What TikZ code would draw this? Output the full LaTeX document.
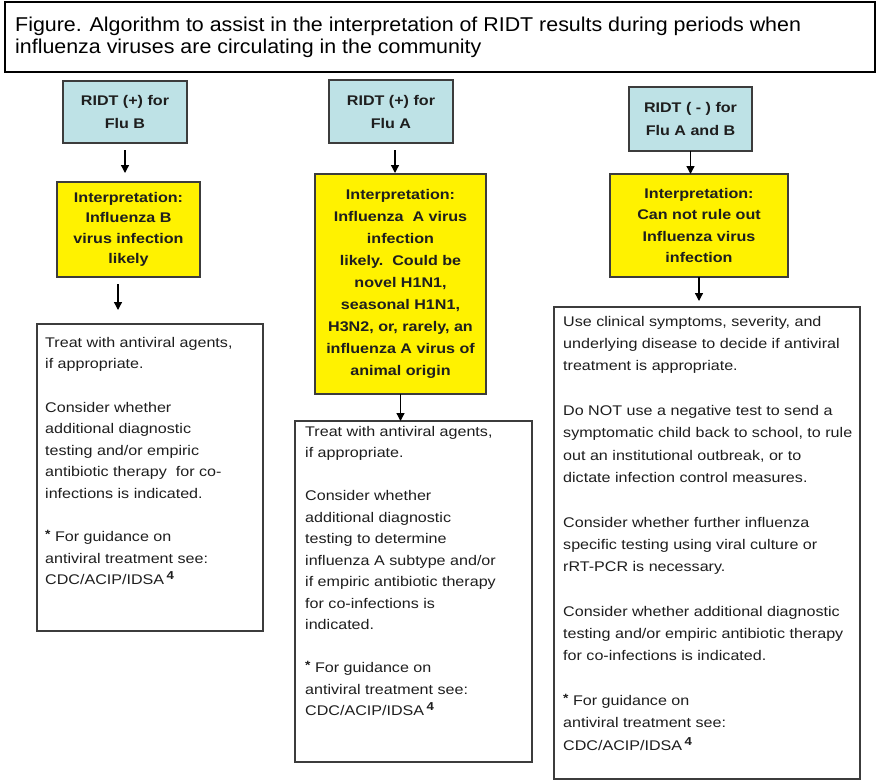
\documentclass[tikz,border=0pt]{standalone}
\usepackage{fontspec}
\setmainfont{Liberation Sans}[FakeStretch=1.15]
\newfontfamily\titlefont{Liberation Sans}[FakeStretch=1.07]
\usetikzlibrary{arrows.meta}
\definecolor{ridtblue}{RGB}{190,226,230}
\definecolor{boxline}{RGB}{60,60,60}
\definecolor{txt}{RGB}{30,30,30}
\tikzset{
  box/.style={draw=boxline, line width=1.3pt, anchor=north west, inner sep=0pt, outer sep=0pt},
  bluebox/.style={box, fill=ridtblue, align=center, text=txt,
    font={\fontsize{14}{23}\selectfont\bfseries}},
  yellowbox/.style={box, fill=yellow, align=center, text=txt,
    font={\fontsize{14}{21.5}\selectfont\bfseries}},
  whitebox/.style={box, fill=white},
  bodytext/.style={anchor=north west, inner sep=0pt, align=left, text=txt,
    font={\fontsize{14}{21.6}\selectfont}},
  arr/.style={line width=1.3pt, -{Triangle[length=8pt,width=8pt]}}
}
\newcommand{\footsup}{\raisebox{3pt}{\fontsize{12}{12}\selectfont\bfseries *}}
\newcommand{\refsup}{\,\raisebox{5pt}{\fontsize{11.5}{11.5}\selectfont\bfseries 4}}
\begin{document}
\begin{tikzpicture}[x=1pt,y=-1pt]
\useasboundingbox (0,0) rectangle (880,782);
\fill[white] (0,0) rectangle (880,782);

% title
\node[box, draw=black, minimum width=870pt, minimum height=70pt] (title) at (5,2) {};
\node[anchor=north west, inner sep=0pt, align=left, text=black,
  font={\titlefont\fontsize{20}{22}\selectfont}] (titletext) at (15,16.5)
  {Figure. Algorithm to assist in the interpretation of RIDT results during periods when\\
   influenza viruses are circulating in the community};

% column 1
\node[bluebox, minimum width=124pt, minimum height=62pt] (b1) at (63,81)
  {RIDT (+) for\\Flu B};
\node[yellowbox, minimum width=143pt, minimum height=95pt,
  font={\fontsize{14}{20.5}\selectfont\bfseries}] (y1) at (57,182)
  {Interpretation:\\Influenza B\\virus infection\\likely};
\node[whitebox, minimum width=226pt, minimum height=307pt] (w1) at (37,324) {};
\node[bodytext] (t1) at (45,337)
  {Treat with antiviral agents,\\
   if appropriate.\\[21.6pt]
   Consider whether\\
   additional diagnostic\\
   testing and/or empiric\\
   antibiotic therapy\ \ for co-\\
   infections is indicated.\\[21.6pt]
   \footsup\ For guidance on\\
   antiviral treatment see:\\
   CDC/ACIP/IDSA\refsup};

% column 2
\node[bluebox, minimum width=124pt, minimum height=63pt] (b2) at (329,80)
  {RIDT (+) for\\Flu A};
\node[yellowbox, minimum width=171pt, minimum height=220pt,
  font={\fontsize{14}{21.9}\selectfont\bfseries}] (y2) at (315,174)
  {Interpretation:\\Influenza\ \ A virus\\infection\\likely.\ \ Could be\\novel H1N1,\\seasonal H1N1,\\H3N2, or, rarely, an\\influenza A virus of\\animal origin};
\node[whitebox, minimum width=237pt, minimum height=341pt] (w2) at (295,421) {};
\node[bodytext, font={\fontsize{14}{21.5}\selectfont}] (t2) at (305,426)
  {Treat with antiviral agents,\\
   if appropriate.\\[21.5pt]
   Consider whether\\
   additional diagnostic\\
   testing to determine\\
   influenza A subtype and/or\\
   if empiric antibiotic therapy\\
   for co-infections is\\
   indicated.\\[21.5pt]
   \footsup\ For guidance on\\
   antiviral treatment see:\\
   CDC/ACIP/IDSA\refsup};

% column 3
\node[bluebox, minimum width=123pt, minimum height=64pt] (b3) at (629,87)
  {RIDT ( - ) for\\Flu A and B};
\node[yellowbox, minimum width=178pt, minimum height=103pt] (y3) at (610,174)
  {Interpretation:\\Can not rule out\\Influenza virus\\infection};
\node[whitebox, minimum width=306pt, minimum height=472pt] (w3) at (554,307) {};
\node[bodytext, font={\fontsize{14}{22.3}\selectfont}] (t3) at (563,316)
  {Use clinical symptoms, severity, and\\
   underlying disease to decide if antiviral\\
   treatment is appropriate.\\[22.3pt]
   Do NOT use a negative test to send a\\
   symptomatic child back to school, to rule\\
   out an institutional outbreak, or to\\
   dictate infection control measures.\\[22.3pt]
   Consider whether further influenza\\
   specific testing using viral culture or\\
   rRT-PCR is necessary.\\[22.3pt]
   Consider whether additional diagnostic\\
   testing and/or empiric antibiotic therapy\\
   for co-infections is indicated.\\[22.3pt]
   \footsup\ For guidance on\\
   antiviral treatment see:\\
   CDC/ACIP/IDSA\refsup};

% arrows
\draw[arr, shorten <=7pt, shorten >=9pt] (b1.south) -- (b1.south |- y1.north);
\draw[arr, shorten <=7pt, shorten >=14pt] ([xshift=-10.5pt]y1.south) -- ([xshift=-10.5pt]y1.south |- w1.north);
\draw[arr, shorten <=7pt, shorten >=1pt] ([xshift=4pt]b2.south) -- ([xshift=4pt]b2.south |- y2.north);
\draw[arr] (y2.south) -- (y2.south |- w2.north);
\draw[arr] (b3.south) -- (b3.south |- y3.north);
\draw[arr, shorten >=6pt] (y3.south) -- (y3.south |- w3.north);
\end{tikzpicture}
\end{document}
